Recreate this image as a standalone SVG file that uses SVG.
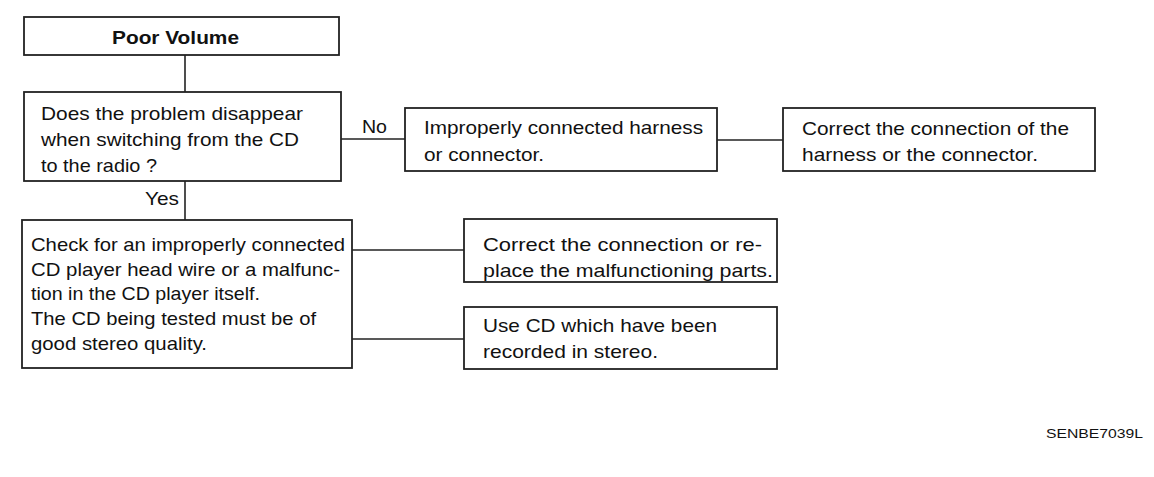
<svg xmlns="http://www.w3.org/2000/svg" width="1154" height="477" viewBox="0 0 1154 477">
<style>
.box{fill:#fff;stroke:#222;stroke-width:1.8}
.ln{fill:none;stroke:#222;stroke-width:1.6}
text{font-family:"Liberation Sans",Arial,sans-serif;font-size:18.5px;fill:#111}
.b{font-weight:bold}
.s{font-size:13px}
</style>
<rect width="1154" height="477" fill="#fff"/>
<g id="connectors">
<line class="ln" x1="185" y1="55" x2="185" y2="92"/>
<line class="ln" x1="185" y1="181" x2="185" y2="220"/>
<line class="ln" x1="341" y1="139" x2="405" y2="139"/>
<line class="ln" x1="717" y1="140" x2="783" y2="140"/>
<line class="ln" x1="352" y1="250" x2="464" y2="250"/>
<line class="ln" x1="352" y1="339" x2="464" y2="339"/>
<text x="362" y="133" textLength="25" lengthAdjust="spacingAndGlyphs">No</text>
<text x="145" y="205" textLength="34" lengthAdjust="spacingAndGlyphs">Yes</text>
</g>
<g id="n1">
<rect class="box" x="24" y="17" width="315" height="38"/>
<text class="b" x="112" y="44" textLength="127" lengthAdjust="spacingAndGlyphs">Poor Volume</text>
</g>
<g id="n2">
<rect class="box" x="24" y="92" width="317" height="89"/>
<text x="41" y="120" textLength="262" lengthAdjust="spacingAndGlyphs">Does the problem disappear</text>
<text x="41" y="146" textLength="258" lengthAdjust="spacingAndGlyphs">when switching from the CD</text>
<text x="41" y="172" textLength="116" lengthAdjust="spacingAndGlyphs">to the radio ?</text>
</g>
<g id="n3">
<rect class="box" x="405" y="108" width="312" height="63"/>
<text x="424" y="134" textLength="279" lengthAdjust="spacingAndGlyphs">Improperly connected harness</text>
<text x="424" y="161" textLength="120" lengthAdjust="spacingAndGlyphs">or connector.</text>
</g>
<g id="n4">
<rect class="box" x="783" y="108" width="312" height="63"/>
<text x="802" y="135" textLength="267" lengthAdjust="spacingAndGlyphs">Correct the connection of the</text>
<text x="802" y="161" textLength="236" lengthAdjust="spacingAndGlyphs">harness or the connector.</text>
</g>
<g id="n5">
<rect class="box" x="22" y="220" width="330" height="148"/>
<text x="31" y="251" textLength="314" lengthAdjust="spacingAndGlyphs">Check for an improperly connected</text>
<text x="31" y="276" textLength="309" lengthAdjust="spacingAndGlyphs">CD player head wire or a malfunc-</text>
<text x="31" y="300" textLength="229" lengthAdjust="spacingAndGlyphs">tion in the CD player itself.</text>
<text x="31" y="325" textLength="285" lengthAdjust="spacingAndGlyphs">The CD being tested must be of</text>
<text x="31" y="350" textLength="176" lengthAdjust="spacingAndGlyphs">good stereo quality.</text>
</g>
<g id="n6">
<rect class="box" x="464" y="219" width="313" height="63"/>
<text x="483" y="251" textLength="279" lengthAdjust="spacingAndGlyphs">Correct the connection or re-</text>
<text x="483" y="277" textLength="290" lengthAdjust="spacingAndGlyphs">place the malfunctioning parts.</text>
</g>
<g id="n7">
<rect class="box" x="464" y="307" width="313" height="62"/>
<text x="483" y="332" textLength="234" lengthAdjust="spacingAndGlyphs">Use CD which have been</text>
<text x="483" y="358" textLength="175" lengthAdjust="spacingAndGlyphs">recorded in stereo.</text>
</g>
<text class="s" x="1046" y="438" textLength="97" lengthAdjust="spacingAndGlyphs">SENBE7039L</text>
</svg>
